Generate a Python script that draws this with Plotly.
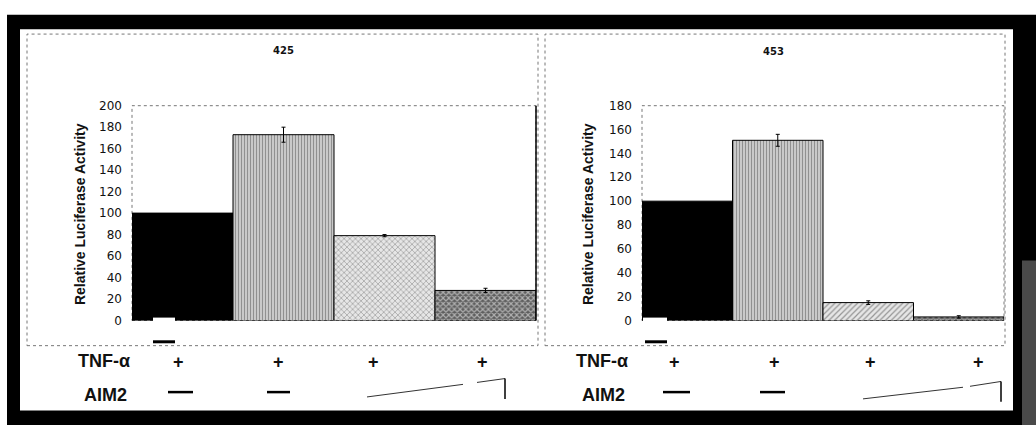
import plotly.graph_objects as go

W, H = 1036, 432

# ---- data ----
conditions = [0, 1, 2, 3]
panel_titles = ["425", "453"]
vals_425 = [100, 173, 79, 28]
err_425 = [0, 7, 1, 2]
vals_453 = [100, 151, 15, 3]
err_453 = [0, 5, 1.5, 1]
ticks_425 = [0, 20, 40, 60, 80, 100, 120, 140, 160, 180, 200]
ticks_453 = [0, 20, 40, 60, 80, 100, 120, 140, 160, 180]
row_labels = ["TNF-α", "AIM2"]
tnf_marks = ["+", "+", "+", "+"]
y_title = "Relative Luciferase Activity"


def px(x):
    return x / W


def py(y):
    return 1 - y / H


fig = go.Figure()

pattern_shapes = ["", "|", "x", "x"]
pattern_shapes2 = ["", "|", "/", "x"]
pattern_fg = ["black", "#555555", "#707070", "#000000"]
bar_colors = ["black", "#dcdcdc", "#e6e6e6", "#5e5e5e"]
pattern_size = [8, 3, 4, 4]
pattern_sol = [0.3, 0.5, 0.3, 0.5]

for vals, errs, xa, ya, shp in [(vals_425, err_425, "x", "y", pattern_shapes),
                                (vals_453, err_453, "x2", "y2", pattern_shapes2)]:
    fig.add_trace(go.Bar(
        x=conditions, y=vals, xaxis=xa, yaxis=ya, width=1.0,
        marker=dict(color=bar_colors, line=dict(color="black", width=1),
                    pattern=dict(shape=shp, fgcolor=pattern_fg, fillmode="overlay",
                                 size=pattern_size, solidity=pattern_sol)),
        showlegend=False, hoverinfo="skip"))
    # error bars only for the bars that carry them in the figure
    idx = [i for i, e in enumerate(errs) if e > 0]
    fig.add_trace(go.Scatter(
        x=[conditions[i] for i in idx], y=[vals[i] for i in idx], xaxis=xa, yaxis=ya,
        mode="markers", marker=dict(size=1, color="rgba(0,0,0,0)"),
        error_y=dict(type="data", array=[errs[i] for i in idx], color="black",
                     thickness=1, width=2),
        showlegend=False, hoverinfo="skip"))

tickfont = dict(family="DejaVu Sans", size=12, color="#111")
axis_common = dict(showgrid=False, zeroline=False, showline=False, fixedrange=True)

fig.update_layout(
    width=W, height=H,
    margin=dict(l=0, r=0, t=0, b=0),
    paper_bgcolor="white",
    plot_bgcolor="rgba(0,0,0,0)",
    bargap=0,
    xaxis=dict(domain=[px(132), px(536)], range=[-0.5, 3.5], showticklabels=False,
               ticks="", **axis_common),
    yaxis=dict(domain=[py(324), py(102)], range=[0, 200], tickvals=ticks_425,
               ticktext=[str(t) for t in ticks_425], tickfont=tickfont, ticks="",
               ticklabelstandoff=9, **axis_common),
    xaxis2=dict(domain=[px(642), px(1004)], range=[-0.5, 3.5], showticklabels=False,
                ticks="", anchor="y2", **axis_common),
    yaxis2=dict(domain=[py(324), py(102)], range=[0, 180], tickvals=ticks_453,
                ticktext=[str(t) for t in ticks_453], tickfont=tickfont, ticks="",
                anchor="x2", ticklabelstandoff=9, **axis_common),
)

shapes = []
# scan frame: black border and white sheet
shapes.append(dict(type="rect", xref="paper", yref="paper", x0=px(7), x1=px(1036),
                   y0=py(432), y1=py(8), fillcolor="black", line=dict(width=0), layer="below"))
shapes.append(dict(type="rect", xref="paper", yref="paper", x0=px(1022), x1=px(1036),
                   y0=py(432), y1=py(262), fillcolor="#4a4a4a", line=dict(width=0), layer="below"))
shapes.append(dict(type="rect", xref="paper", yref="paper", x0=px(20), x1=px(1013),
                   y0=py(417), y1=py(23), fillcolor="white", line=dict(width=0), layer="below"))
# panel borders (dotted)
for (a, b) in [(27, 538), (545, 1005)]:
    shapes.append(dict(type="rect", xref="paper", yref="paper", x0=px(a), x1=px(b),
                       y0=py(350), y1=py(28), line=dict(color="#777", width=1, dash="dot"),
                       layer="below"))
# plot-area frames
for xr, yr in [("x domain", "y domain"), ("x2 domain", "y2 domain")]:
    shapes.append(dict(type="rect", xref=xr, yref=yr, x0=0, x1=1, y0=0, y1=1,
                       line=dict(color="#777", width=1, dash="dot"), layer="below"))
shapes.append(dict(type="line", xref="x domain", yref="y domain", x0=1, x1=1, y0=0, y1=1,
                   line=dict(color="black", width=1.5)))

# small scan artifacts under first bars
shapes.append(dict(type="rect", xref="paper", yref="paper", x0=px(153), x1=px(175),
                   y0=py(325), y1=py(321), fillcolor="white", line=dict(width=0)))
shapes.append(dict(type="line", xref="paper", yref="paper", x0=px(153), x1=px(175),
                   y0=py(346), y1=py(346), line=dict(color="black", width=3)))
shapes.append(dict(type="rect", xref="paper", yref="paper", x0=px(643), x1=px(667),
                   y0=py(326), y1=py(321), fillcolor="white", line=dict(width=0)))
shapes.append(dict(type="line", xref="paper", yref="paper", x0=px(645), x1=px(667),
                   y0=py(346), y1=py(346), line=dict(color="black", width=3)))

# AIM2 row: "-" marks and dose ramps
for (a, b) in [(168, 193), (267, 290), (663, 690), (760, 785)]:
    shapes.append(dict(type="line", xref="paper", yref="paper", x0=px(a), x1=px(b),
                       y0=py(398), y1=py(398), line=dict(color="black", width=2.5)))
for (r0, r1, s0, s1, v) in [((367, 403), (463, 390), (477, 388), (505, 384), (384, 405)),
                            ((863, 405), (963, 393), (970, 392), (1001, 387), (387, 408))]:
    shapes.append(dict(type="line", xref="paper", yref="paper", x0=px(r0[0]), x1=px(r1[0]),
                       y0=py(r0[1]), y1=py(r1[1]), line=dict(color="#333", width=1)))
    shapes.append(dict(type="line", xref="paper", yref="paper", x0=px(s0[0]), x1=px(s1[0]),
                       y0=py(s0[1]), y1=py(s1[1]), line=dict(color="#333", width=1)))
    shapes.append(dict(type="line", xref="paper", yref="paper", x0=px(s1[0]), x1=px(s1[0]),
                       y0=py(v[0]), y1=py(v[1]), line=dict(color="black", width=1.5)))
fig.update_layout(shapes=shapes)

ann = []
lab_font = dict(family="Liberation Sans", size=18, color="#111")
C = dict(xref="paper", yref="paper", showarrow=False, xanchor="center", yanchor="middle")
for tx, ty, txt in [(283, 45, panel_titles[0]), (773, 46, panel_titles[1])]:
    ann.append(dict(x=px(tx), y=py(ty), text=f"<b>{txt}</b>",
                    font=dict(family="DejaVu Sans", size=10, color="#111"), **C))
for tx in [80, 588]:
    ann.append(dict(x=px(tx), y=py(214), text=f"<b>{y_title}</b>", textangle=-90,
                    font=dict(family="Liberation Sans", size=14, color="#111"), **C))
for cx in [104, 602]:
    ann.append(dict(x=px(cx), y=py(366), text=f"<b>{row_labels[0]}</b>", font=lab_font, **C))
    ann.append(dict(x=px(cx + 1), y=py(401), text=f"<b>{row_labels[1]}</b>", font=lab_font, **C))
plus_x = [178, 278, 373, 482, 674, 774, 870, 978]
for i, xx in enumerate(plus_x):
    ann.append(dict(x=px(xx), y=py(367), text=f"<b>{tnf_marks[i % 4]}</b>",
                    font=dict(family="Liberation Sans", size=18, color="#111"), **C))
fig.update_layout(annotations=ann)

fig.write_html("out.html", config={"displayModeBar": False, "staticPlot": True},
               post_script="document.body.style.margin='0';document.body.style.overflow='hidden';")
